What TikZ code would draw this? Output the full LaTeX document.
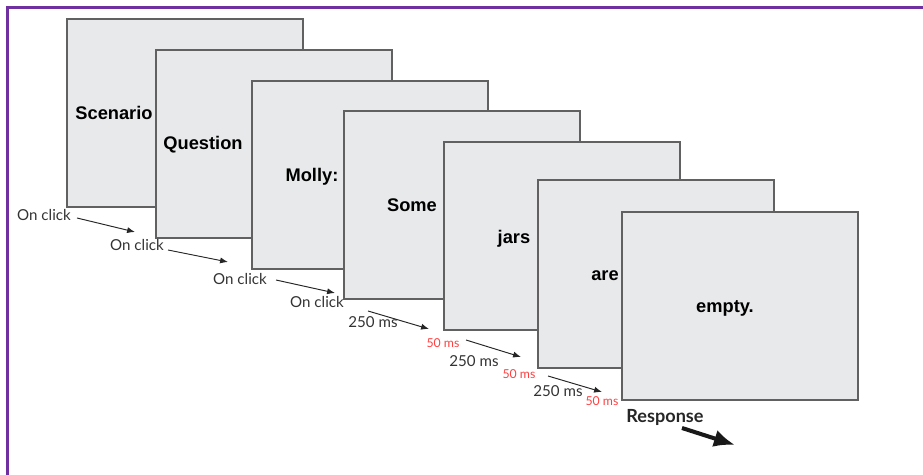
\documentclass[tikz,border=0pt]{standalone}
\usepackage{fontspec}
\setmainfont{Lato}
\newfontfamily\screenfont{Liberation Sans}
\usepackage{xcolor}
\usepackage{tikz}
\usetikzlibrary{arrows.meta}
\definecolor{framepurple}{RGB}{112,48,160}
\definecolor{screengray}{RGB}{231,233,234}
\definecolor{msred}{RGB}{255,64,64}

\begin{document}
\begin{tikzpicture}[x=0.02cm,y=-0.02cm,
		screen/.style={draw=black!62,line width=1pt,fill=screengray,minimum width=4.72cm,minimum height=3.76cm,anchor=north west,inner sep=0pt},
		word/.style={font=\screenfont\bfseries\fontsize{10.4}{12}\selectfont,inner sep=0pt},
		timing/.style={font=\fontsize{8.6}{10}\selectfont,text=black!80,inner sep=0pt},
		short/.style={font=\fontsize{7}{8}\selectfont,text=msred,inner sep=0pt},
		tick/.style={-{Latex[length=4.5pt,width=3.5pt]},line width=0.55pt,black!85}]
			\useasboundingbox (0,0) rectangle (923,475);
			% frame
			\draw [framepurple,line width=1.8pt] (7.5,475) -- (7.5,7.5) -- (923,7.5);
			% screens
			\foreach \x/\y/\t/\tx/\ty [count=\i] in {66/18/Scenario/114/113,155/49/Question/203/145,251/80/Molly:/312/177,343/110/Some/412/205,443/141/jars/514/239,537/179/are/605/276,621/211/empty./725/308}
			{
			\node [screen] (s\i) at (\x,\y) {};
			\node [word] (w\i) at (\tx,\ty) {\t};
			}
			% timing labels
			\foreach \x/\y [count=\i] in {44/215,137/245,240/279,317/302}
			\node [timing] (c\i) at (\x,\y) {On click};
			\foreach \x/\y [count=\i] in {373/322,474/361,558/391}
			\node [timing] (t\i) at (\x,\y) {250 ms};
			\foreach \x/\y [count=\i] in {443/343,519/374,602/401}
			\node [short] (f\i) at (\x,\y) {50 ms};
			\node [timing,font=\bfseries\fontsize{10.3}{12}\selectfont,text=black!85] (resp) at (665,417) {Response};
			% arrows
			\foreach \ax/\ay/\bx/\by [count=\i] in {77/218/135/232,168/250/228/262,276/280/335/293,368/311/429/329,466/340/521/357,548/376/602/392}
			{
			\coordinate (a\i) at (\ax,\ay);
			\coordinate (b\i) at (\bx,\by);
			\draw [tick] (a\i) -- (b\i);
			}
			\coordinate (r0) at (682,428);
			\coordinate (r1) at (735,445);
			\draw [-{Latex[length=12pt,width=10pt]},line width=2.3pt,black!90] (r0) -- (r1);
\end{tikzpicture}
\end{document}
